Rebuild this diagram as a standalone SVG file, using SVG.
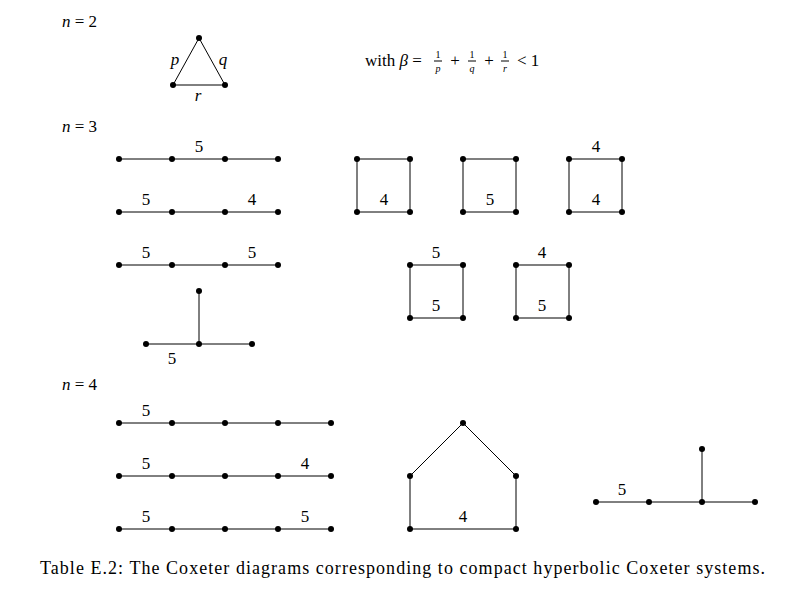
<svg xmlns="http://www.w3.org/2000/svg" width="800" height="605" viewBox="0 0 800 605">
<style>
text{font-family:"Liberation Serif","DejaVu Serif",serif;font-size:17px;fill:#000;text-anchor:middle}
.i{font-style:italic}
line,rect,polyline{stroke:#000;stroke-width:1;fill:none}
circle{fill:#000}
</style>
<rect x="0" y="0" width="800" height="605" style="fill:#fff;stroke:none"/>
<g id="labels">
<text x="62" y="27" style="text-anchor:start"><tspan class="i">n</tspan> = 2</text>
<text x="62" y="132" style="text-anchor:start"><tspan class="i">n</tspan> = 3</text>
<text x="62" y="390" style="text-anchor:start"><tspan class="i">n</tspan> = 4</text>
<text x="365" y="66" style="text-anchor:start">with <tspan class="i">β</tspan> =</text>
<text x="438" y="58" style="font-size:10px">1</text><line x1="434" y1="61" x2="442" y2="61"/><text x="438" y="72" style="font-size:10px" class="i">p</text>
<text x="455" y="66">+</text>
<text x="472" y="58" style="font-size:10px">1</text><line x1="468" y1="61" x2="476" y2="61"/><text x="472" y="72" style="font-size:10px" class="i">q</text>
<text x="489" y="66">+</text>
<text x="505" y="58" style="font-size:10px">1</text><line x1="501" y1="61" x2="509" y2="61"/><text x="505" y="72" style="font-size:10px" class="i">r</text>
<text x="517" y="66" style="text-anchor:start">&lt; 1</text>
<text x="40" y="574" style="text-anchor:start;font-size:18px" textLength="725">Table E.2: The Coxeter diagrams corresponding to compact hyperbolic Coxeter systems.</text>
</g>
<g id="connectors">
<polyline points="199,38 173,85 225,85 199,38"/>
<line x1="119" y1="159" x2="278" y2="159"/>
<line x1="119" y1="212" x2="278" y2="212"/>
<line x1="119" y1="265" x2="278" y2="265"/>
<line x1="146" y1="344" x2="252" y2="344"/><line x1="199" y1="291" x2="199" y2="344"/>
<rect x="357" y="159" width="53" height="53"/>
<rect x="463" y="159" width="53" height="53"/>
<rect x="569" y="159" width="53" height="53"/>
<rect x="410" y="265" width="53" height="53"/>
<rect x="516" y="265" width="53" height="53"/>
<line x1="119" y1="423" x2="331" y2="423"/>
<line x1="119" y1="476" x2="331" y2="476"/>
<line x1="119" y1="529" x2="331" y2="529"/>
<polyline points="410,476 463,423 516,476 516,529 410,529 410,476"/>
<line x1="596" y1="502" x2="755" y2="502"/><line x1="702" y1="449" x2="702" y2="502"/>
</g>
<g id="n2"><circle cx="199" cy="38" r="3"/><circle cx="173" cy="85" r="3"/><circle cx="225" cy="85" r="3"/>
<text x="175" y="65" class="i">p</text><text x="223" y="65" class="i">q</text><text x="198" y="101" class="i">r</text></g>
<g id="r1"><circle cx="119" cy="159" r="3"/><circle cx="172" cy="159" r="3"/><circle cx="225" cy="159" r="3"/><circle cx="278" cy="159" r="3"/><text x="199" y="152">5</text></g>
<g id="r2"><circle cx="119" cy="212" r="3"/><circle cx="172" cy="212" r="3"/><circle cx="225" cy="212" r="3"/><circle cx="278" cy="212" r="3"/><text x="146" y="205">5</text><text x="252" y="205">4</text></g>
<g id="r3"><circle cx="119" cy="265" r="3"/><circle cx="172" cy="265" r="3"/><circle cx="225" cy="265" r="3"/><circle cx="278" cy="265" r="3"/><text x="146" y="258">5</text><text x="252" y="258">5</text></g>
<g id="t1"><circle cx="199" cy="291" r="3"/><circle cx="146" cy="344" r="3"/><circle cx="199" cy="344" r="3"/><circle cx="252" cy="344" r="3"/><text x="172" y="364">5</text></g>
<g id="s1"><circle cx="357" cy="159" r="3"/><circle cx="410" cy="159" r="3"/><circle cx="357" cy="212" r="3"/><circle cx="410" cy="212" r="3"/><text x="384" y="205">4</text></g>
<g id="s2"><circle cx="463" cy="159" r="3"/><circle cx="516" cy="159" r="3"/><circle cx="463" cy="212" r="3"/><circle cx="516" cy="212" r="3"/><text x="490" y="205">5</text></g>
<g id="s3"><circle cx="569" cy="159" r="3"/><circle cx="622" cy="159" r="3"/><circle cx="569" cy="212" r="3"/><circle cx="622" cy="212" r="3"/><text x="596" y="152">4</text><text x="596" y="205">4</text></g>
<g id="s4"><circle cx="410" cy="265" r="3"/><circle cx="463" cy="265" r="3"/><circle cx="410" cy="318" r="3"/><circle cx="463" cy="318" r="3"/><text x="436" y="258">5</text><text x="436" y="311">5</text></g>
<g id="s5"><circle cx="516" cy="265" r="3"/><circle cx="569" cy="265" r="3"/><circle cx="516" cy="318" r="3"/><circle cx="569" cy="318" r="3"/><text x="542" y="258">4</text><text x="542" y="311">5</text></g>
<g id="q1"><circle cx="119" cy="423" r="3"/><circle cx="172" cy="423" r="3"/><circle cx="225" cy="423" r="3"/><circle cx="278" cy="423" r="3"/><circle cx="331" cy="423" r="3"/><text x="146" y="416">5</text></g>
<g id="q2"><circle cx="119" cy="476" r="3"/><circle cx="172" cy="476" r="3"/><circle cx="225" cy="476" r="3"/><circle cx="278" cy="476" r="3"/><circle cx="331" cy="476" r="3"/><text x="146" y="469">5</text><text x="305" y="469">4</text></g>
<g id="q3"><circle cx="119" cy="529" r="3"/><circle cx="172" cy="529" r="3"/><circle cx="225" cy="529" r="3"/><circle cx="278" cy="529" r="3"/><circle cx="331" cy="529" r="3"/><text x="146" y="522">5</text><text x="305" y="522">5</text></g>
<g id="house"><circle cx="463" cy="423" r="3"/><circle cx="410" cy="476" r="3"/><circle cx="516" cy="476" r="3"/><circle cx="410" cy="529" r="3"/><circle cx="516" cy="529" r="3"/><text x="463" y="522">4</text></g>
<g id="tree"><circle cx="596" cy="502" r="3"/><circle cx="649" cy="502" r="3"/><circle cx="702" cy="502" r="3"/><circle cx="755" cy="502" r="3"/><circle cx="702" cy="449" r="3"/><text x="622" y="495">5</text></g>
</svg>
